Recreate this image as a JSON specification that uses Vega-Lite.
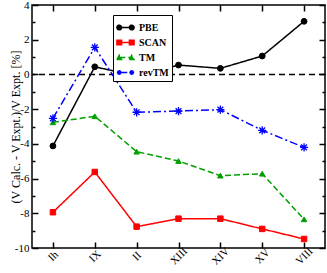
{
  "$schema": "https://vega.github.io/schema/vega-lite/v6.json",
  "autosize": "none",
  "width": 293,
  "height": 243,
  "padding": {"left": 32, "top": 5, "right": 2, "bottom": 25},
  "background": "white",
  "config": {
    "view": {"stroke": "black", "strokeWidth": 1.5},
    "font": "Liberation Serif"
  },
  "data": {
    "values": [
      {"cat": "Ih", "method": "PBE", "v": -4.12},
      {"cat": "IX", "method": "PBE", "v": 0.44},
      {"cat": "II", "method": "PBE", "v": -0.09},
      {"cat": "XIII", "method": "PBE", "v": 0.54},
      {"cat": "XIV", "method": "PBE", "v": 0.35},
      {"cat": "XV", "method": "PBE", "v": 1.06},
      {"cat": "VIII", "method": "PBE", "v": 3.06},
      {"cat": "Ih", "method": "SCAN", "v": -7.94},
      {"cat": "IX", "method": "SCAN", "v": -5.62},
      {"cat": "II", "method": "SCAN", "v": -8.77},
      {"cat": "XIII", "method": "SCAN", "v": -8.31},
      {"cat": "XIV", "method": "SCAN", "v": -8.31},
      {"cat": "XV", "method": "SCAN", "v": -8.9},
      {"cat": "VIII", "method": "SCAN", "v": -9.48},
      {"cat": "Ih", "method": "TM", "v": -2.76},
      {"cat": "IX", "method": "TM", "v": -2.41},
      {"cat": "II", "method": "TM", "v": -4.45},
      {"cat": "XIII", "method": "TM", "v": -4.99},
      {"cat": "XIV", "method": "TM", "v": -5.83},
      {"cat": "XV", "method": "TM", "v": -5.72},
      {"cat": "VIII", "method": "TM", "v": -8.35},
      {"cat": "Ih", "method": "revTM", "v": -2.53},
      {"cat": "IX", "method": "revTM", "v": 1.56},
      {"cat": "II", "method": "revTM", "v": -2.18},
      {"cat": "XIII", "method": "revTM", "v": -2.11},
      {"cat": "XIV", "method": "revTM", "v": -2.03},
      {"cat": "XV", "method": "revTM", "v": -3.22},
      {"cat": "VIII", "method": "revTM", "v": -4.2}
    ]
  },
  "resolve": {"axis": {"x": "independent", "y": "independent"}},
  "layer": [
    {
      "data": {"values": [{"z": 0}]},
      "mark": {"type": "rule", "color": "black", "strokeWidth": 1.5, "strokeDash": [6, 4]},
      "encoding": {
        "y": {
          "field": "z", "type": "quantitative",
          "scale": {"domain": [-10, 4], "nice": false, "zero": false},
          "axis": {
            "orient": "left",
            "values": [-10, -9, -8, -7, -6, -5, -4, -3, -2, -1, 0, 1, 2, 3, 4],
            "labelExpr": "datum.value % 2 == 0 ? '' + datum.value : ''",
            "ticks": false, "domain": false,
            "grid": true, "gridColor": "black", "gridOpacity": 1, "gridWidth": 1.5,
            "gridDash": {"condition": {"test": "datum.value % 2 != 0", "value": [3, 1000]}, "value": [6, 1000]},
            "labelFont": "Liberation Serif", "labelFontSize": 11, "labelColor": "black",
            "labelPadding": 3,
            "title": "(V Calc. - V Expt.)/V Expt. [%]",
            "titleFont": "Liberation Serif", "titleFontSize": 12, "titleFontWeight": "normal",
            "titleColor": "black", "titleX": -17, "titleY": 121.5, "titleAngle": -90,
            "titleAlign": "center", "titleBaseline": "middle"
          }
        }
      }
    },
    {
      "mark": {"type": "line", "strokeWidth": 1.5},
      "encoding": {
        "x": {
          "field": "cat", "type": "ordinal",
          "scale": {"type": "point", "domain": ["Ih", "IX", "II", "XIII", "XIV", "XV", "VIII"], "padding": 0.5},
          "axis": {
            "orient": "bottom", "title": null,
            "ticks": false, "domain": false,
            "grid": true, "gridColor": "black", "gridOpacity": 1, "gridWidth": 1.5, "gridDash": [6, 1000],
            "labelAngle": -45, "labelAlign": "center", "labelBaseline": "middle",
            "labelFont": "Liberation Serif", "labelFontSize": 11, "labelColor": "black",
            "labelPadding": 8
          }
        },
        "y": {
          "field": "v", "type": "quantitative",
          "scale": {"domain": [-10, 4], "nice": false, "zero": false},
          "axis": {
            "orient": "right", "title": null, "labels": false,
            "values": [-10, -9, -8, -7, -6, -5, -4, -3, -2, -1, 0, 1, 2, 3, 4],
            "ticks": false, "domain": false,
            "grid": true, "gridColor": "black", "gridOpacity": 1, "gridWidth": 1.5,
            "gridDash": {"condition": {"test": "datum.value % 2 != 0", "value": [3, 1000]}, "value": [6, 1000]}
          }
        },
        "stroke": {
          "field": "method", "type": "nominal",
          "scale": {"domain": ["PBE", "SCAN", "TM", "revTM"], "range": ["#000000", "#ff0000", "#00a000", "#0000ff"]},
          "legend": {
            "orient": "none", "legendX": 81, "legendY": 10, "title": null,
            "strokeColor": "black", "fillColor": "white", "padding": 3,
            "labelFont": "Liberation Serif", "labelFontWeight": "bold", "labelFontSize": 10, "labelColor": "black",
            "rowPadding": 0, "labelOffset": 4, "symbolSize": 300, "symbolStrokeWidth": 1.3,
            "encode": {
              "legend": {
                "update": {
                  "stroke": {"value": "black"},
                  "strokeWidth": {"value": 1},
                  "fill": {"value": "white"}
                }
              },
              "symbols": {
                "update": {
                  "shape": {"signal": "datum.value === 'PBE' ? 'M -0.72 0 L 0.72 0 M -1 0 A 0.28 0.28 0 1 1 -0.44 0 A 0.28 0.28 0 1 1 -1 0 Z M 0.44 0 A 0.28 0.28 0 1 1 1 0 A 0.28 0.28 0 1 1 0.44 0 Z' : datum.value === 'SCAN' ? 'M -0.72 0 L 0.72 0 M -1 -0.28 L -0.44 -0.28 L -0.44 0.28 L -1 0.28 Z M 0.44 -0.28 L 1 -0.28 L 1 0.28 L 0.44 0.28 Z' : datum.value === 'TM' ? 'M -0.72 0 L 0.72 0 M -1 0.24 L -0.72 -0.28 L -0.44 0.24 Z M 0.44 0.24 L 0.72 -0.28 L 1 0.24 Z' : 'M -0.72 0 L 0.72 0 M -1 0 L -0.44 0 M -0.72 -0.28 L -0.72 0.28 M -0.92 -0.2 L -0.52 0.2 M -0.92 0.2 L -0.52 -0.2 M 0.44 0 L 1 0 M 0.72 -0.28 L 0.72 0.28 M 0.52 -0.2 L 0.92 0.2 M 0.52 0.2 L 0.92 -0.2'"},
                  "fill": {"signal": "datum.value === 'PBE' ? '#000000' : datum.value === 'SCAN' ? '#ff0000' : datum.value === 'TM' ? '#00a000' : 'transparent'"},
                  "strokeDash": {"signal": "datum.value === 'TM' ? [3, 2] : [1, 0]"}
                }
              }
            }
          }
        },
        "strokeDash": {
          "field": "method", "type": "nominal",
          "scale": {"domain": ["PBE", "SCAN", "TM", "revTM"], "range": [[1, 0], [1, 0], [6, 3], [8, 3, 2, 3]]},
          "legend": null
        }
      }
    },
    {
      "transform": [{"filter": {"field": "method", "equal": "PBE"}}],
      "mark": {"type": "point", "shape": "circle", "filled": true, "color": "#000000", "stroke": "#000000", "strokeWidth": 1, "opacity": 1, "size": 34},
      "encoding": {
        "x": {
          "field": "cat", "type": "ordinal",
          "scale": {"type": "point", "domain": ["Ih", "IX", "II", "XIII", "XIV", "XV", "VIII"], "padding": 0.5},
          "axis": {
            "orient": "top", "title": null, "labels": false,
            "ticks": false, "domain": false,
            "grid": true, "gridColor": "black", "gridOpacity": 1, "gridWidth": 1.5, "gridDash": [6, 1000]
          }
        },
        "y": {"field": "v", "type": "quantitative", "scale": {"domain": [-10, 4], "nice": false, "zero": false}, "axis": null}
      }
    },
    {
      "transform": [{"filter": {"field": "method", "equal": "SCAN"}}],
      "mark": {"type": "point", "shape": "square", "filled": true, "color": "#ff0000", "stroke": "#ff0000", "strokeWidth": 1, "opacity": 1, "size": 30},
      "encoding": {
        "x": {"field": "cat", "type": "ordinal", "scale": {"type": "point", "domain": ["Ih", "IX", "II", "XIII", "XIV", "XV", "VIII"], "padding": 0.5}, "axis": null},
        "y": {"field": "v", "type": "quantitative", "scale": {"domain": [-10, 4], "nice": false, "zero": false}, "axis": null}
      }
    },
    {
      "transform": [{"filter": {"field": "method", "equal": "TM"}}],
      "mark": {"type": "point", "shape": "triangle-up", "filled": true, "color": "#00a000", "stroke": "#00a000", "strokeWidth": 1, "opacity": 1, "size": 30},
      "encoding": {
        "x": {"field": "cat", "type": "ordinal", "scale": {"type": "point", "domain": ["Ih", "IX", "II", "XIII", "XIV", "XV", "VIII"], "padding": 0.5}, "axis": null},
        "y": {"field": "v", "type": "quantitative", "scale": {"domain": [-10, 4], "nice": false, "zero": false}, "axis": null}
      }
    },
    {
      "transform": [{"filter": {"field": "method", "equal": "revTM"}}],
      "mark": {"type": "point", "shape": "M -1.5 0 L 1.5 0 M 0 -1.5 L 0 1.5 M -1.05 -1.05 L 1.05 1.05 M -1.05 1.05 L 1.05 -1.05", "filled": false, "color": "#0000ff", "stroke": "#0000ff", "strokeWidth": 1.3, "opacity": 1, "size": 30},
      "encoding": {
        "x": {"field": "cat", "type": "ordinal", "scale": {"type": "point", "domain": ["Ih", "IX", "II", "XIII", "XIV", "XV", "VIII"], "padding": 0.5}, "axis": null},
        "y": {"field": "v", "type": "quantitative", "scale": {"domain": [-10, 4], "nice": false, "zero": false}, "axis": null}
      }
    }
  ]
}
